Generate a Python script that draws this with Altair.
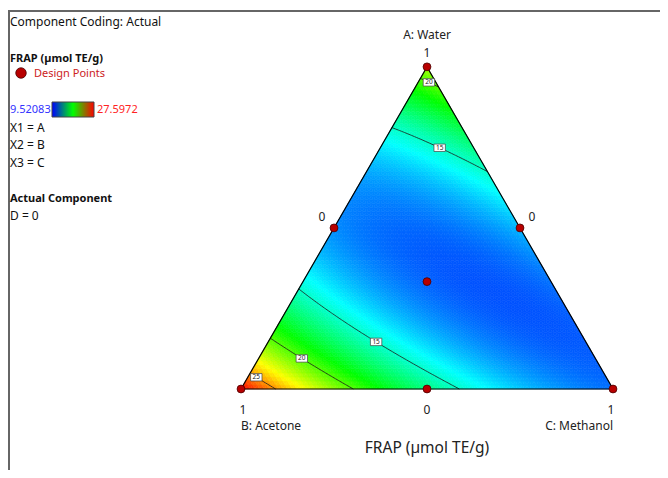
import math
import altair as alt

FONT = "Noto Sans"

# ---------------- data ----------------
# Design points: fractions of A: Water, B: Acetone, C: Methanol
pt_A = [1.0, 0.0, 0.0, 0.5, 0.5, 0.0, 1 / 3]
pt_B = [0.0, 1.0, 0.0, 0.5, 0.0, 0.5, 1 / 3]
pt_C = [0.0, 0.0, 1.0, 0.0, 0.5, 0.5, 1 / 3]
pt_frap = [21.5, 27.6, 11.5, 12.05, 12.8, 16.3, 11.3]

color_min = 9.52083
color_max = 27.5972
contour_levels = [15, 20, 25]

# contour labels (level, approximate composition where the label sits)
lab_level = [20, 15, 15, 20, 25]
lab_A = [0.950, 0.754, 0.146, 0.090, 0.031]
lab_C = [0.032, 0.159, 0.289, 0.119, 0.022]

# ---------------- mixture model (special cubic) ----------------
yA, yB, yC, yAB, yAC, yBC, yABC = pt_frap
b12 = 4 * yAB - 2 * (yA + yB)
b13 = 4 * yAC - 2 * (yA + yC)
b23 = 4 * yBC - 2 * (yB + yC)
b123 = 27 * yABC - 12 * (yAB + yAC + yBC) + 3 * (yA + yB + yC)


def model(a, b, c):
    return (yA * a + yB * b + yC * c + b12 * a * b + b13 * a * c
            + b23 * b * c + b123 * a * b * c)


S3 = math.sqrt(3) / 2


def xy(a, c):
    return [round(c + a / 2, 5), round(a * S3, 5)]


N = 80
vals = {}
for i in range(N + 1):
    for j in range(N + 1 - i):
        a, c = i / N, j / N
        vals[(i, j)] = model(a, 1 - a - c, c)

tris = []
for i in range(N):
    for j in range(N - i):
        tris.append([(i, j), (i + 1, j), (i, j + 1)])
        if i + j + 2 <= N:
            tris.append([(i + 1, j), (i, j + 1), (i + 1, j + 1)])

cells = []
segs = {L: [] for L in contour_levels}
for t in tris:
    a = sum(p[0] for p in t) / (3 * N)
    c = sum(p[1] for p in t) / (3 * N)
    v = model(a, 1 - a - c, c)
    pts = [xy(p[0] / N, p[1] / N) for p in t]
    cells.append({"type": "Feature",
                  "geometry": {"type": "Polygon", "coordinates": [pts + [pts[0]]]},
                  "properties": {"v": round(v, 3)}})
    for L in contour_levels:
        cross = []
        for k in range(3):
            p, q = t[k], t[(k + 1) % 3]
            vp, vq = vals[p], vals[q]
            if (vp - L) * (vq - L) < 0:
                s = (L - vp) / (vq - vp)
                ai = (p[0] + s * (q[0] - p[0])) / N
                ci = (p[1] + s * (q[1] - p[1])) / N
                cross.append(xy(ai, ci))
        if len(cross) == 2:
            segs[L].append(cross)

contours = [{"type": "Feature",
             "geometry": {"type": "MultiLineString", "coordinates": segs[L]},
             "properties": {"level": L}} for L in contour_levels]

# snap each label onto its computed contour
labels = []
for L, la, lc in zip(lab_level, lab_A, lab_C):
    tx, ty = xy(la, lc)
    best = min(segs[L], key=lambda s: ((s[0][0] + s[1][0]) / 2 - tx) ** 2
               + ((s[0][1] + s[1][1]) / 2 - ty) ** 2)
    labels.append({"lon": (best[0][0] + best[1][0]) / 2,
                   "lat": (best[0][1] + best[1][1]) / 2, "t": str(L)})

design = [{"lon": xy(a, c)[0], "lat": xy(a, c)[1]} for a, c in zip(pt_A, pt_C)]

outline = [{"type": "Feature",
            "geometry": {"type": "LineString",
                         "coordinates": [xy(0, 0), xy(0, 1), xy(1, 0), xy(0, 0)]},
            "properties": {"k": 1}}]

verts = {"A": xy(1, 0), "B": xy(0, 0), "C": xy(0, 1),
         "AB": xy(0.5, 0), "AC": xy(0.5, 0.5), "BC": xy(0, 0.5)}

PROJ = dict(type="identity", scale=372, translate=[233, 381], reflectY=True)

step = (color_max - color_min) / 4
cscale = alt.Scale(domain=[color_min + k * step for k in range(5)],
                   range=["#0000ff", "#00ffff", "#00ff00", "#ffff00", "#ff0000"],
                   interpolate="rgb", clamp=True)


def geo(features):
    return alt.InlineData(values={"type": "FeatureCollection", "features": features},
                          format=alt.DataFormat(property="features", type="json"))


surface = alt.Chart(geo(cells)).mark_geoshape(strokeWidth=0.6).encode(
    color=alt.Color("properties.v:Q", scale=cscale, legend=None),
    stroke=alt.Stroke("properties.v:Q", scale=cscale, legend=None),
).project(**PROJ)

contour_layer = alt.Chart(geo(contours)).mark_geoshape(
    filled=False, stroke="#1a1a1a", strokeWidth=0.8
).encode(strokeOpacity=alt.value(1)).project(**PROJ)

outline_layer = alt.Chart(geo(outline)).mark_geoshape(
    filled=False, stroke="#000000", strokeWidth=1.2
).encode(strokeOpacity=alt.value(1)).project(**PROJ)

box_path = "M-1,-0.65L1,-0.65L1,0.65L-1,0.65Z"
lab_box = alt.Chart(alt.Data(values=labels)).mark_point(
    shape=box_path, size=130, filled=True, fill="white", stroke="#444", strokeWidth=0.7, opacity=1
).encode(longitude="lon:Q", latitude="lat:Q").project(**PROJ)
lab_txt = alt.Chart(alt.Data(values=labels)).mark_text(
    font=FONT, fontSize=6.5, color="#222", baseline="middle", align="center"
).encode(longitude="lon:Q", latitude="lat:Q", text="t:N").project(**PROJ)

pts_layer = alt.Chart(alt.Data(values=design)).mark_circle(
    size=62, color="#b80000", stroke="#4a0000", strokeWidth=0.8, opacity=1
).encode(longitude="lon:Q", latitude="lat:Q").project(**PROJ)


def vtext(key, txt, dx=0, dy=0, size=12, align="center"):
    lon, lat = verts[key]
    return alt.Chart(alt.Data(values=[{"lon": lon, "lat": lat}])).mark_text(
        text=txt, font=FONT, fontSize=size, color="#222", align=align,
        baseline="middle", dx=dx, dy=dy
    ).encode(longitude="lon:Q", latitude="lat:Q").project(**PROJ)


one = alt.Data(values=[{"k": 1}])


def ltext(txt, x, y, size=11, color="#111", weight="normal", align="left"):
    return alt.Chart(one).mark_text(
        text=txt, font=FONT, fontSize=size, color=color, fontWeight=weight,
        align=align, baseline="middle"
    ).encode(x=alt.value(x), y=alt.value(y))


frame_top = alt.Chart(one).mark_rule(color="#666666", strokeWidth=2).encode(
    x=alt.value(0), x2=alt.value(652), y=alt.value(3))
frame_left = alt.Chart(one).mark_rule(color="#666666", strokeWidth=2).encode(
    x=alt.value(1), y=alt.value(2), y2=alt.value(462))

grad = alt.Chart(one).mark_rect(
    fill=alt.Gradient(gradient="linear", x1=0, x2=1, y1=0, y2=0,
                      stops=[alt.GradientStop(color="#0000ff", offset=0),
                             alt.GradientStop(color="#00ff00", offset=0.5),
                             alt.GradientStop(color="#ff0000", offset=1)]),
    stroke="#444", strokeWidth=1
).encode(x=alt.value(44), x2=alt.value(86), y=alt.value(94), y2=alt.value(109))

legend_dot = alt.Chart(one).mark_circle(
    size=110, color="#b80000", stroke="#4a0000", strokeWidth=0.8, opacity=1
).encode(x=alt.value(13), y=alt.value(65))

layers = [
    surface, contour_layer, outline_layer, lab_box, lab_txt, pts_layer,
    vtext("A", "A: Water", dy=-32), vtext("A", "1", dy=-14),
    vtext("AB", "0", dx=-12, dy=-11), vtext("AC", "0", dx=12, dy=-11),
    vtext("B", "1", dx=2, dy=21), vtext("BC", "0", dy=21), vtext("C", "1", dx=-2, dy=21),
    vtext("B", "B: Acetone", dx=0, dy=37, align="left"),
    vtext("C", "C: Methanol", dx=0, dy=37, align="right"),
    vtext("BC", "FRAP (µmol TE/g)", dy=59, size=15.5),
    frame_top, frame_left, grad, legend_dot,
    ltext("Component Coding: Actual", 2, 14, size=12),
    ltext("FRAP (µmol TE/g)", 2, 51, weight="bold"),
    ltext("Design Points", 26, 66, color="#cc2222"),
    ltext("9.52083", 2, 102, color="#3333ff"),
    ltext("27.5972", 89, 102, color="#ff2222"),
    ltext("X1 = A", 2, 120, size=12), ltext("X2 = B", 2, 137, size=12),
    ltext("X3 = C", 2, 155, size=12),
    ltext("Actual Component", 2, 191, weight="bold"),
    ltext("D = 0", 2, 208, size=12),
]

chart = alt.layer(*layers).properties(
    width=652, height=462, padding=0, autosize="none"
).configure_view(stroke=None)

chart.save("out.html", embed_options={"renderer": "svg", "actions": False})
